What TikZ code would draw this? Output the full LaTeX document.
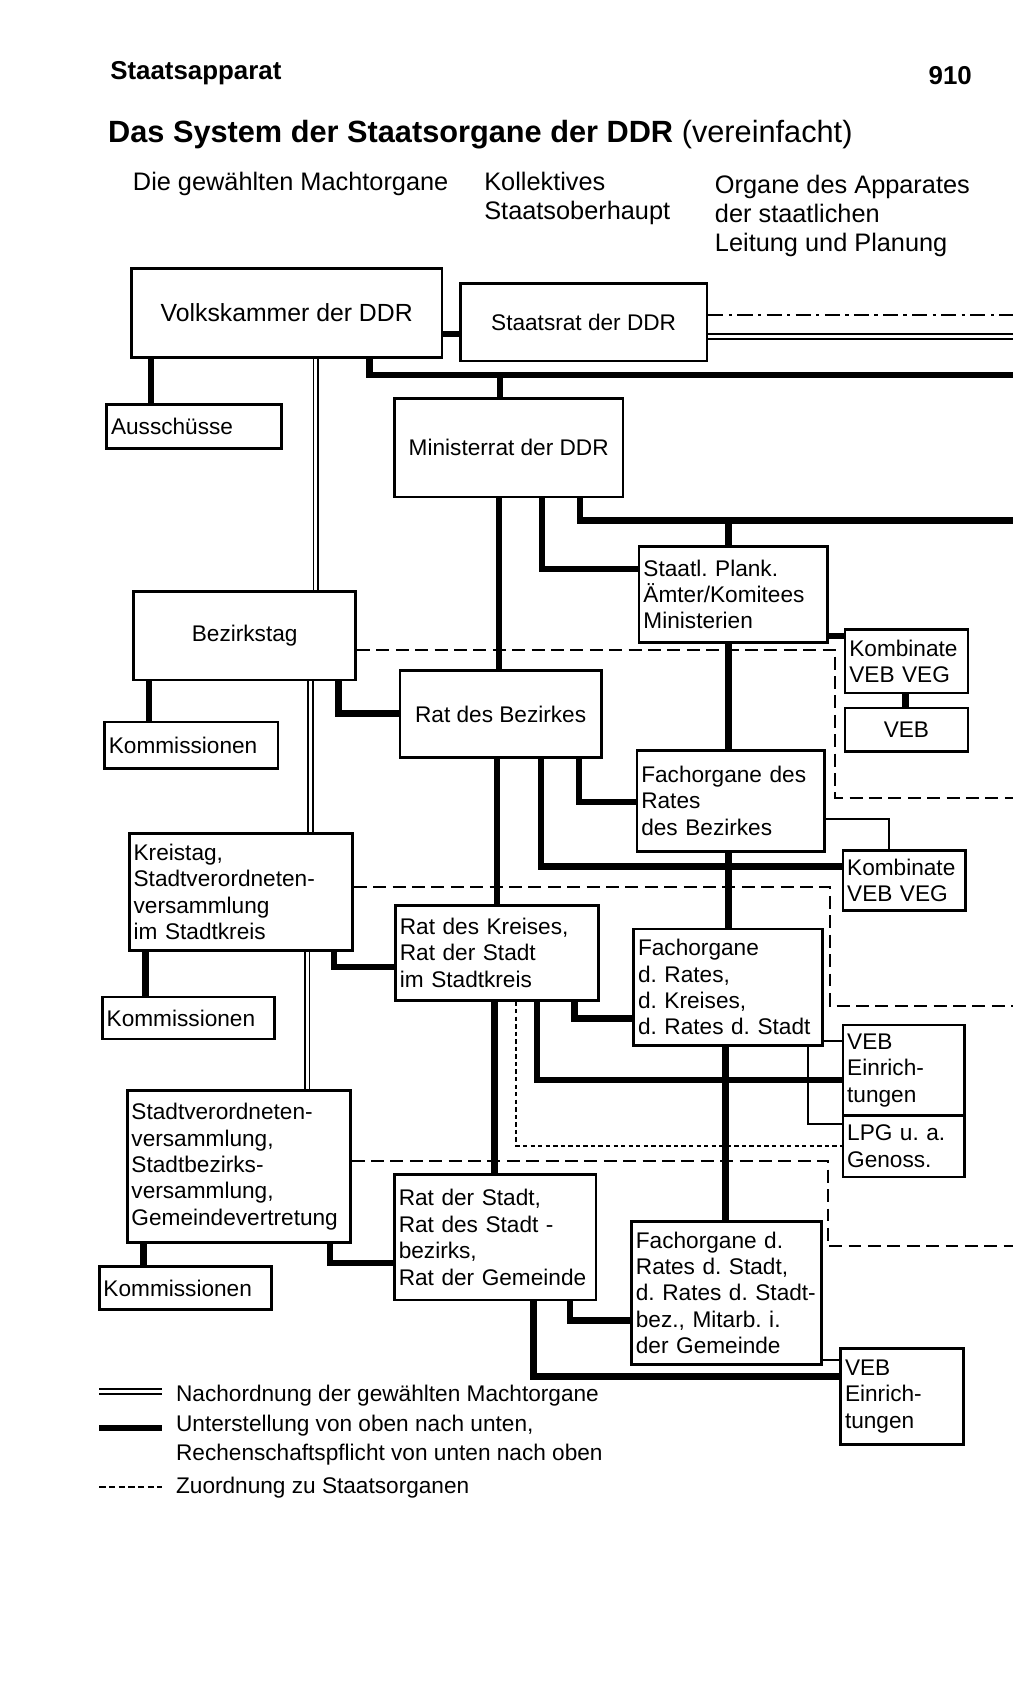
\documentclass[tikz,border=0pt]{standalone}
\usepackage{fontspec}
\setmainfont{Liberation Sans}
\frenchspacing
\tikzset{every picture/.style={line width=0.75pt}}
\tikzset{
  box/.style={draw,line width=2.5pt,align=center,inner sep=4pt,font=\fontsize{21}{24.5}\selectfont},
  lbox/.style={box,align=left},
  big/.style={font=\fontsize{23}{26}\selectfont},
  sub/.style={line width=6pt},
  nach/.style={double,double distance=3pt,line width=1.5pt},
  zu/.style={line width=2pt,dash pattern=on 12pt off 6pt},
  zudot/.style={line width=2pt,dash pattern=on 4pt off 3pt},
  thin/.style={line width=2pt},
  head/.style={anchor=north west,inner sep=0pt,align=left,font=\fontsize{23.5}{27}\selectfont},
  leg/.style={inner sep=0pt,align=left,font=\fontsize{21}{26}\selectfont}
}
\begin{document}
\begin{tikzpicture}[x=1pt,y=-1pt]
\useasboundingbox (0,0) rectangle (950,1568);

% Kopf
\node[anchor=west,inner sep=0pt,font=\bfseries\fontsize{24}{26}\selectfont] (kopf) at (102,68) {Staatsapparat};
\node[anchor=east,inner sep=0pt,font=\bfseries\fontsize{24}{26}\selectfont] (seite) at (902,70) {910};
\node[anchor=west,inner sep=0pt,font=\fontsize{28.5}{32}\selectfont] (titel) at (100,125) {\textbf{Das System der Staatsorgane der DDR} (vereinfacht)};
\node[head] (sp1) at (123,159) {Die gewählten Machtorgane};
\node[head] (sp2) at (449,159) {Kollektives\\Staatsoberhaupt};
\node[head] (sp3) at (663,162) {Organe des Apparates\\der staatlichen\\Leitung und Planung};

% Kästen
\node[box, big, minimum width=288, minimum height=83] (vk) at (266,290.5) {Volkskammer der DDR};
\node[box, minimum width=229, minimum height=72] (sr) at (541.5,299) {Staatsrat der DDR};
\node[lbox, text width=154, minimum height=41] (aus) at (180,395.5) {Ausschüsse};
\node[box, minimum width=212, minimum height=91] (mr) at (472,415.5) {Ministerrat der DDR};
\node[lbox, text width=167, minimum height=89] (sp) at (680.5,551.5) {Staatl. Plank.\\Ämter/Komitees\\Ministerien};
\node[box, minimum width=206, minimum height=82] (bt) at (227,590) {Bezirkstag};
\node[lbox, text width=106, minimum height=59] (kb1) at (841,613.5) {Kombinate\\VEB VEG};
\node[box, minimum width=114, minimum height=40] (veb1) at (841,677) {VEB};
\node[box, minimum width=187, minimum height=81] (rb) at (464.5,662.5) {Rat des Bezirkes};
\node[lbox, text width=153, minimum height=43] (ko1) at (177.5,691.5) {Kommissionen};
\node[lbox, text width=166, minimum height=94] (fb) at (678,743) {Fachorgane des\\Rates\\des Bezirkes};
\node[lbox, text width=106, minimum height=56] (kb2) at (839,817) {Kombinate\\VEB VEG};
\node[lbox, text width=199, minimum height=109] (kt) at (223.5,827.5) {Kreistag,\\Stadtverordneten-\\versammlung\\im Stadtkreis};
\node[lbox, text width=180, minimum height=88] (rk) at (461,884) {Rat des Kreises,\\Rat der Stadt\\im Stadtkreis};
\node[lbox, text width=167, minimum height=108] (fk) at (675.5,916) {Fachorgane\\d. Rates,\\d. Kreises,\\d. Rates d. Stadt};
\node[lbox, text width=152, minimum height=39] (ko2) at (175,944.5) {Kommissionen};
\node[lbox, text width=105, minimum height=84] (veb2) at (838.5,993) {VEB\\Einrich-\\tungen};
\node[lbox, text width=105, minimum height=57] (lpg) at (838.5,1063.5) {LPG u. a.\\Genoss.};
\node[lbox, text width=199, minimum height=141] (sv) at (221.5,1082.5) {Stadtverordneten-\\versammlung,\\Stadtbezirks-\\versammlung,\\Gemeindevertretung};
\node[lbox, text width=179, minimum height=116] (rs) at (459.5,1148) {Rat der Stadt,\\Rat des Stadt -\\bezirks,\\Rat der Gemeinde};
\node[lbox, text width=168, minimum height=133] (fs) at (674,1199.5) {Fachorgane d.\\Rates d. Stadt,\\d. Rates d. Stadt-\\bez., Mitarb. i.\\der Gemeinde};
\node[lbox, text width=152, minimum height=40] (ko3) at (172,1195) {Kommissionen};
\node[lbox, text width=106, minimum height=89] (veb3) at (837,1295.5) {VEB\\Einrich-\\tungen};

% Ränder
\coordinate (r1) at (940,292);
\coordinate (r2) at (940,312);
\coordinate (r3) at (940,348);
\coordinate (r4) at (940,483);
\coordinate (r5) at (940,740);
\coordinate (r6) at (940,933);
\coordinate (r7) at (940,1156);

% Volkskammer / Staatsrat
\draw[sub] (vk.east |- 0,310) -- (sr.west |- 0,310);
\draw[thin,dash pattern=on 14pt off 5pt on 3pt off 5pt] (sr.east |- r1) -- (r1);
\draw[nach] (sr.east |- r2) -- (r2);
\draw[sub] (343,0 |- vk.south) |- (r3);
\draw[sub] (464,348) -- (464,0 |- mr.north);
\draw[sub] (140,0 |- vk.south) -- (140,0 |- aus.north);
\draw[nach] (293,0 |- vk.south) -- (293,0 |- bt.north);

% Ministerrat
\draw[sub] (463,0 |- mr.south) -- (463,0 |- rb.north);
\draw[sub] (503,0 |- mr.south) |- (sp.west |- 0,528);
\draw[sub] (538,0 |- mr.south) |- (r4);
\draw[sub] (676,483) -- (676,0 |- sp.north);
\draw[sub] (sp.east |- 0,590) -- (kb1.west |- 0,590);
\draw[sub] (840,0 |- kb1.south) -- (840,0 |- veb1.north);
\draw[sub] (676,0 |- sp.south) -- (676,0 |- fb.north);

% Bezirkstag
\draw[zu] (bt.east |- 0,603) -- (775,603) -- (775,740) -- (r5);
\draw[sub] (138,0 |- bt.south) -- (138,0 |- ko1.north);
\draw[nach] (288,0 |- bt.south) -- (288,0 |- kt.north);
\draw[sub] (314,0 |- bt.south) |- (rb.west |- 0,662);

% Rat des Bezirkes
\draw[sub] (461,0 |- rb.south) -- (461,0 |- rk.north);
\draw[sub] (502,0 |- rb.south) |- (kb2.west |- 0,804);
\draw[sub] (537,0 |- rb.south) |- (fb.west |- 0,744);
\draw[thin] (fb.east |- 0,760) -| (825,0 |- kb2.north);
\draw[sub] (676,0 |- fb.south) -- (676,0 |- fk.north);

% Kreistag
\draw[zu] (kt.east |- 0,823) -- (770,823) -- (770,933) -- (r6);
\draw[sub] (135,0 |- kt.south) -- (135,0 |- ko2.north);
\draw[nach] (285,0 |- kt.south) -- (285,0 |- sv.north);
\draw[sub] (310,0 |- kt.south) |- (rk.west |- 0,897);

% Rat des Kreises
\draw[sub] (459,0 |- rk.south) -- (459,0 |- rs.north);
\draw[sub] (498,0 |- rk.south) |- (veb2.west |- 0,1002);
\draw[sub] (533,0 |- rk.south) |- (fk.west |- 0,945);
\draw[zudot] (479,0 |- rk.south) |- (lpg.west |- 0,1063);
\draw[thin] (fk.east |- 0,966) -- (veb2.west |- 0,966);
\draw[thin] (750,0 |- fk.south) |- (lpg.west |- 0,1043);
\draw[sub] (673,0 |- fk.south) -- (673,0 |- fs.north);

% Stadtverordnetenversammlung
\draw[zu] (sv.east |- 0,1077) -- (768,1077) -- (768,1156) -- (r7);
\draw[sub] (133,0 |- sv.south) -- (133,0 |- ko3.north);
\draw[sub] (306,0 |- sv.south) |- (rs.west |- 0,1172);

% Rat der Stadt
\draw[sub] (495,0 |- rs.south) |- (veb3.west |- 0,1277);
\draw[sub] (529,0 |- rs.south) |- (fs.west |- 0,1225);
\draw[thin] (fs.east |- 0,1262) -- (veb3.west |- 0,1262);

% Legende
\coordinate (l1a) at (92,1291); \coordinate (l1b) at (150,1291);
\coordinate (l2a) at (92,1325); \coordinate (l2b) at (150,1325);
\coordinate (l3a) at (92,1380); \coordinate (l3b) at (150,1380);
\draw[nach] (l1a) -- (l1b);
\draw[sub] (l2a) -- (l2b);
\draw[line width=2pt,dash pattern=on 6pt off 3pt] (l3a) -- (l3b);
\node[leg,anchor=west] (t1) at (163,1295) {Nachordnung der gewählten Machtorgane};
\node[leg,anchor=north west] (t2) at (163,1313) {Unterstellung von oben nach unten,\\Rechenschaftspflicht von unten nach oben};
\node[leg,anchor=west] (t3) at (163,1380) {Zuordnung zu Staatsorganen};
\end{tikzpicture}
\end{document}
